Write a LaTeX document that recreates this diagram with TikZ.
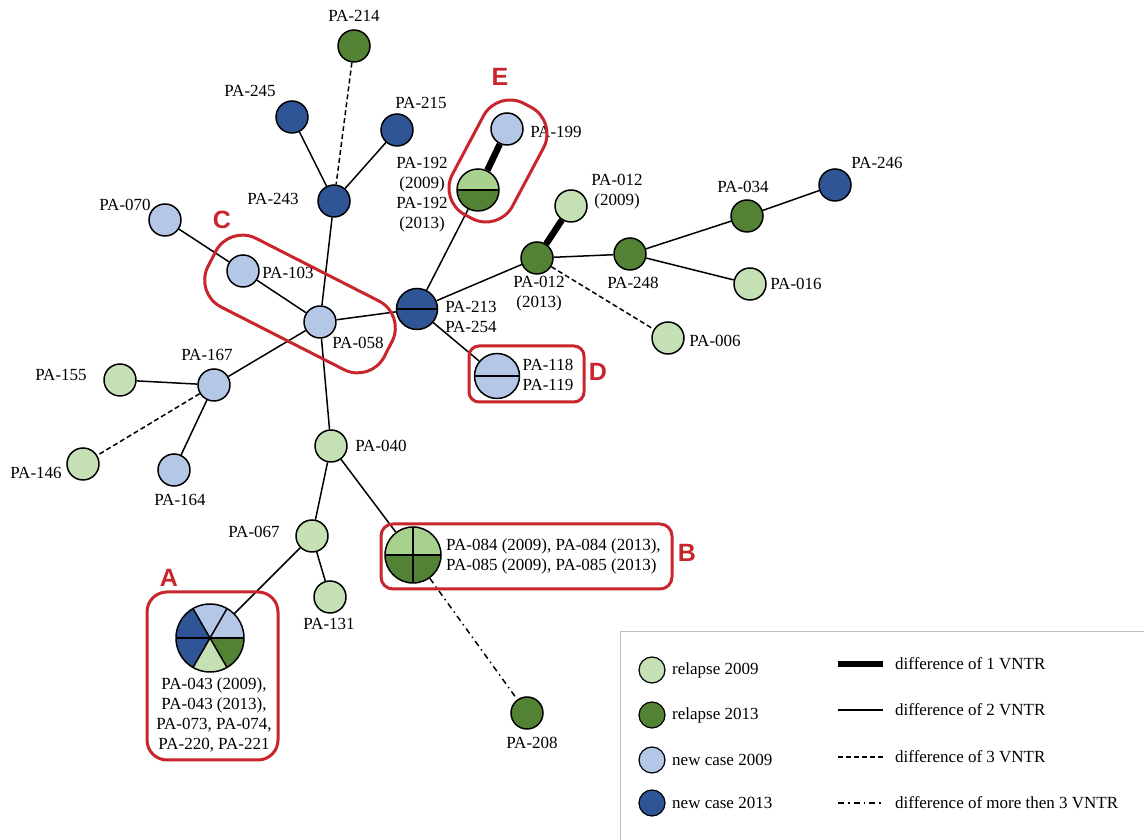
\documentclass[tikz,border=0pt]{standalone}
\usepackage{fontspec}
\setmainfont{Liberation Serif}
\newfontfamily\groupsans{Liberation Sans}
\definecolor{IsoLightGreen}{RGB}{197,224,180}
\definecolor{IsoMidGreen}{RGB}{169,209,142}
\definecolor{IsoDarkGreen}{RGB}{84,130,53}
\definecolor{IsoLightBlue}{RGB}{180,199,231}
\definecolor{IsoDarkBlue}{RGB}{47,85,151}
\definecolor{GroupRed}{RGB}{200,38,44}
\definecolor{LegendGray}{RGB}{191,191,191}

\begin{document}
\begin{tikzpicture}[x=1bp,y=1bp,line join=round]
  \path[use as bounding box] (0,0) rectangle (1144,840);
  \fill[white] (0,0) rectangle (1144,840);

  \tikzset{
    isolate/.style={circle,draw=black,line width=1.5bp,minimum size=32bp,inner sep=0pt},
    relapse09/.style={isolate,fill=IsoLightGreen},
    relapse13/.style={isolate,fill=IsoDarkGreen},
    newcase09/.style={isolate,fill=IsoLightBlue},
    newcase13/.style={isolate,fill=IsoDarkBlue},
    isolabel/.style={inner sep=0pt,align=center,
      font=\fontsize{17bp}{20bp}\selectfont},
    vntrone/.style={line width=6.5bp},
    vntrtwo/.style={line width=1.5bp},
    vntrthree/.style={line width=1.5bp,dash pattern=on 5bp off 3bp},
    vntrmore/.style={line width=1.5bp,dash pattern=on 6bp off 4bp on 1.5bp off 4bp},
    groupbox/.style={draw=GroupRed,line width=3bp},
    grouptag/.style={inner sep=0pt,text=GroupRed,
      font=\groupsans\bfseries\fontsize{25bp}{25bp}\selectfont},
  }

  % upper left branch
  \node[relapse13] (p214) at (354,794) {};
  \node[newcase13] (p245) at (292,723) {};
  \node[newcase13] (p215) at (397,710) {};
  \node[newcase13] (p243) at (334,639) {};
  \node[newcase09] (p070) at (165,620) {};
  \node[newcase09] (p103) at (243,569) {};
  \node[newcase09] (p058) at (320,518) {};
  \node[newcase09] (p167) at (214,455) {};
  \node[relapse09] (p155) at (120,460) {};
  \node[relapse09] (p146) at (83,376) {};
  \node[newcase09] (p164) at (174,370) {};
  \node[relapse09] (p040) at (331,394) {};
  \node[relapse09] (p067) at (312,304) {};
  \node[relapse09] (p131) at (330,243) {};
  \node[relapse13] (p208) at (527,127) {};

  \node[isolabel] (l214) at (354,824) {PA-214};
  \node[isolabel] (l245) at (250,749) {PA-245};
  \node[isolabel] (l215) at (421,737) {PA-215};
  \node[isolabel] (l243) at (273,641) {PA-243};
  \node[isolabel] (l070) at (125,635) {PA-070};
  \node[isolabel] (l103) at (288,567) {PA-103};
  \node[isolabel] (l058) at (358,497) {PA-058};
  \node[isolabel] (l167) at (207,485) {PA-167};
  \node[isolabel] (l155) at (61,465) {PA-155};
  \node[isolabel] (l146) at (36,367) {PA-146};
  \node[isolabel] (l164) at (180,340) {PA-164};
  \node[isolabel] (l040) at (381,394) {PA-040};
  \node[isolabel] (l067) at (254,308) {PA-067};
  \node[isolabel] (l131) at (329,216) {PA-131};
  \node[isolabel] (l208) at (532,97) {PA-208};

  % A: six isolates
  \foreach \a/\col in {0/IsoLightBlue,60/IsoLightBlue,120/IsoDarkBlue,
                       180/IsoDarkBlue,240/IsoLightGreen,300/IsoDarkGreen}
    \fill[\col] (210,202) -- ++(\a:34) arc[start angle=\a,delta angle=60,radius=34] -- cycle;
  \foreach \a in {0,60,120}
    \draw[line width=1.5bp] (210,202) ++(\a:34) -- ++(\a+180:68);
  \node[isolate,minimum size=68bp] (pieA) at (210,202) {};
  \node[isolabel] (lA) at (214,125)
    {PA-043 (2009),\\PA-043 (2013),\\PA-073, PA-074,\\PA-220, PA-221};

  % B: four isolates
  \foreach \a/\col in {0/IsoMidGreen,90/IsoMidGreen,180/IsoDarkGreen,270/IsoDarkGreen}
    \fill[\col] (413,285) -- ++(\a:28) arc[start angle=\a,delta angle=90,radius=28] -- cycle;
  \foreach \a in {0,90}
    \draw[line width=1.5bp] (413,285) ++(\a:28) -- ++(\a+180:56);
  \node[isolate,minimum size=56bp] (pieB) at (413,285) {};
  \node[isolabel,anchor=west,align=left] (lB) at (446,284)
    {PA-084 (2009), PA-084 (2013),\\PA-085 (2009), PA-085 (2013)};

  % right branch
  \node[newcase13,minimum size=41bp] (p213) at (417,531) {};
  \draw[line width=1.5bp] (p213.180) -- (p213.0);
  \node[newcase09,minimum size=45bp] (p118) at (497,464) {};
  \draw[line width=1.5bp] (p118.180) -- (p118.0);
  \fill[IsoMidGreen] (478,650) ++(0:21) arc[start angle=0,end angle=180,radius=21] -- cycle;
  \fill[IsoDarkGreen] (478,650) ++(180:21) arc[start angle=180,end angle=360,radius=21] -- cycle;
  \draw[line width=1.5bp] (457,650) -- (499,650);
  \node[isolate,minimum size=42bp] (p192) at (478,650) {};
  \node[newcase09] (p199) at (507,711) {};
  \node[relapse09] (p012a) at (571,634) {};
  \node[relapse13] (p012b) at (537,582) {};
  \node[relapse13] (p248) at (630,586) {};
  \node[relapse13] (p034) at (747,624) {};
  \node[newcase13] (p246) at (835,655) {};
  \node[relapse09] (p016) at (750,556) {};
  \node[relapse09] (p006) at (668,502) {};

  \node[isolabel] (l213) at (471,523) {PA-213\\PA-254};
  \node[isolabel] (l118) at (548,465) {PA-118\\PA-119};
  \node[isolabel] (l192) at (422,645) {PA-192\\(2009)\\PA-192\\(2013)};
  \node[isolabel] (l199) at (556,708) {PA-199};
  \node[isolabel] (l012a) at (617,648) {PA-012\\(2009)};
  \node[isolabel] (l012b) at (539,546) {PA-012\\(2013)};
  \node[isolabel] (l248) at (633,557) {PA-248};
  \node[isolabel] (l034) at (743,653) {PA-034};
  \node[isolabel] (l246) at (877,677) {PA-246};
  \node[isolabel] (l016) at (796,556) {PA-016};
  \node[isolabel] (l006) at (715,499) {PA-006};

  % connectors
  \draw[vntrthree] (p214) -- (p243);
  \draw[vntrtwo] (p245) -- (p243);
  \draw[vntrtwo] (p215) -- (p243);
  \draw[vntrtwo] (p243) -- (p058);
  \draw[vntrtwo] (p070) -- (p103);
  \draw[vntrtwo] (p103) -- (p058);
  \draw[vntrtwo] (p058) -- (p167);
  \draw[vntrtwo] (p058) -- (p213);
  \draw[vntrtwo] (p058) -- (p040);
  \draw[vntrtwo] (p167) -- (p155);
  \draw[vntrthree] (p167) -- (p146);
  \draw[vntrtwo] (p167) -- (p164);
  \draw[vntrtwo] (p040) -- (p067);
  \draw[vntrtwo] (p040) -- (pieB);
  \draw[vntrtwo] (p067) -- (pieA);
  \draw[vntrtwo] (p067) -- (p131);
  \draw[vntrmore] (pieB) -- (p208);
  \draw[vntrtwo] (p213) -- (p192);
  \draw[vntrone] (p192) -- (p199);
  \draw[vntrtwo] (p213) -- (p012b);
  \draw[vntrtwo] (p213) -- (p118);
  \draw[vntrone] (p012b) -- (p012a);
  \draw[vntrtwo] (p012b) -- (p248);
  \draw[vntrthree] (p012b) -- (p006);
  \draw[vntrtwo] (p248) -- (p034);
  \draw[vntrtwo] (p248) -- (p016);
  \draw[vntrtwo] (p034) -- (p246);

  % groups
  \draw[groupbox,rounded corners=20bp] (147,80) rectangle (278,248);
  \draw[groupbox,rounded corners=12bp] (381,251) rectangle (672,316);
  \draw[groupbox,rounded corners=10bp] (469,438) rectangle (584,494);
  \node[groupbox,rounded corners=30bp,rotate=-27,minimum width=198bp,
    minimum height=77bp] (boxC) at (300,536) {};
  \node[groupbox,rounded corners=30bp,rotate=62,minimum width=126bp,
    minimum height=68bp] (boxE) at (498,679) {};
  \node[grouptag] (tagA) at (169,262) {A};
  \node[grouptag] (tagB) at (687,287) {B};
  \node[grouptag] (tagC) at (222,620) {C};
  \node[grouptag] (tagD) at (598,468) {D};
  \node[grouptag] (tagE) at (500,763) {E};

  % legend
  \draw[LegendGray,line width=1bp] (620,0) -- (620,208) -- (1144,208);
  \foreach \y/\sty/\txt in {170/relapse09/relapse 2009,125/relapse13/relapse 2013,
                            80/newcase09/new case 2009,37/newcase13/new case 2013} {
    \node[\sty,minimum size=26bp,line width=1.2bp] (key\y) at (652,\y) {};
    \node[isolabel,anchor=west] (keytext\y) at (672,\y) {\txt};
  }
  \foreach \y/\sty/\txt in {176/vntrone/difference of 1 VNTR,130/vntrtwo/difference of 2 VNTR,
                            83/vntrthree/difference of 3 VNTR,
                            37/vntrmore/difference of more then 3 VNTR} {
    \coordinate (linefrom\y) at (838,\y);
    \coordinate (lineto\y) at (883,\y);
    \draw[\sty] (linefrom\y) -- (lineto\y);
    \node[isolabel,anchor=west] (linetext\y) at (895,\y) {\txt};
  }
\end{tikzpicture}
\end{document}
